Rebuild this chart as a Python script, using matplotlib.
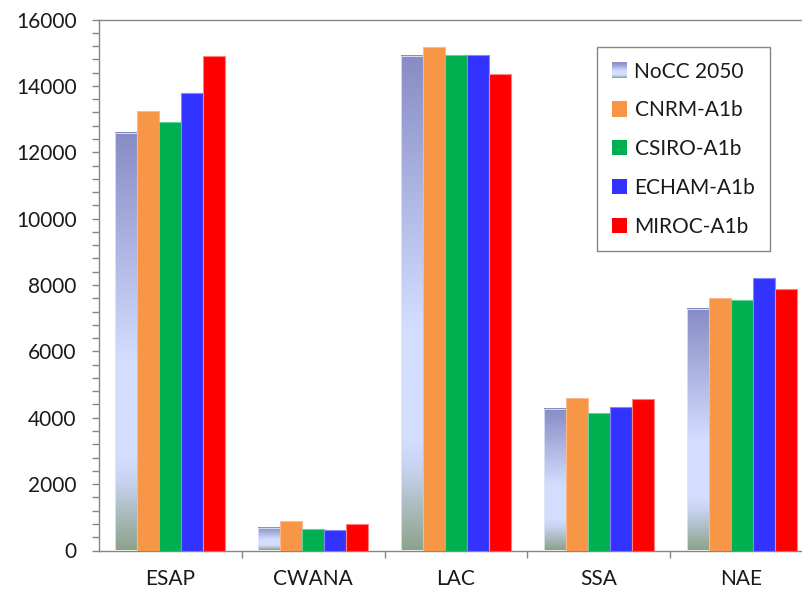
import numpy as np
import matplotlib
matplotlib.use("Agg")
import matplotlib.pyplot as plt
from matplotlib.colors import LinearSegmentedColormap
from matplotlib.patches import Rectangle
from matplotlib.legend_handler import HandlerBase
from matplotlib.ticker import MultipleLocator, FixedLocator, NullFormatter

# Regions and scenario series
regions = ["ESAP", "CWANA", "LAC", "SSA", "NAE"]
series_names = ["NoCC 2050", "CNRM-A1b", "CSIRO-A1b", "ECHAM-A1b", "MIROC-A1b"]
nocc_2050 = [12570, 670, 14900, 4255, 7285]
cnrm_a1b = [13240, 890, 15170, 4595, 7600]
csiro_a1b = [12900, 660, 14920, 4135, 7540]
echam_a1b = [13775, 625, 14920, 4315, 8200]
miroc_a1b = [14890, 800, 14360, 4565, 7880]
y_ticks = [0, 2000, 4000, 6000, 8000, 10000, 12000, 14000, 16000]

series_values = [nocc_2050, cnrm_a1b, csiro_a1b, echam_a1b, miroc_a1b]
solid_colors = [None, "#F79646", "#00B050", "#3333FF", "#FF0000"]
edge_colors = [None, "#FAB98C", "#66D096", "#8585FF", "#FF8080"]

# Vertical gradient used for the NoCC bars (bottom -> top)
grad_cmap = LinearSegmentedColormap.from_list(
    "nocc",
    [(0.00, "#8CA38A"),
     (0.16, "#C6D2EE"),
     (0.22, "#D3DEFF"),
     (0.45, "#D3DEFF"),
     (1.00, "#878CC5")],
)

plt.rcParams["font.family"] = ["Lato", "DejaVu Sans"]

fig = plt.figure(figsize=(8.02, 5.90), dpi=100)
ax = fig.add_axes([99 / 802, 1 - 550.5 / 590, (813 - 99) / 802, 531 / 590])

n = len(series_names)
bar_w = 0.154
x = np.arange(len(regions))
grad = np.linspace(0, 1, 256).reshape(-1, 1)

for i, (name, vals) in enumerate(zip(series_names, series_values)):
    offs = (i - (n - 1) / 2) * bar_w
    for xc, v in zip(x, vals):
        x0 = xc + offs - bar_w / 2
        if i == 0:
            ax.imshow(grad, cmap=grad_cmap, origin="lower", aspect="auto",
                      extent=[x0, x0 + bar_w, 0, v], interpolation="bilinear",
                      zorder=2)
            ax.add_patch(Rectangle((x0, 0), bar_w, v, facecolor="none",
                                   edgecolor="#E2E6F8", linewidth=0.6, zorder=3))
        else:
            ax.add_patch(Rectangle((x0, 0), bar_w, v, facecolor=solid_colors[i],
                                   edgecolor=edge_colors[i], linewidth=0.8,
                                   zorder=3))

ax.set_xlim(-0.5, len(regions) - 0.5)
ax.set_ylim(0, 16000)

# Spines
for side in ["left", "bottom", "top"]:
    ax.spines[side].set_color("#868686")
    ax.spines[side].set_linewidth(1.0)
ax.spines["right"].set_visible(False)

# Y axis ticks
ax.yaxis.set_major_locator(FixedLocator(y_ticks))
ax.yaxis.set_minor_locator(MultipleLocator(400))
ax.tick_params(axis="y", which="both", direction="out", length=5,
               color="#868686", width=1.0)
ax.tick_params(axis="y", which="major", labelsize=15, pad=11,
               labelcolor="#1A1A1A")
ax.set_yticklabels([str(t) for t in y_ticks])

# X axis: separators between categories, labels at centres
ax.xaxis.set_major_locator(FixedLocator(np.arange(len(regions) - 1) + 0.5))
ax.xaxis.set_major_formatter(NullFormatter())
ax.xaxis.set_minor_locator(FixedLocator(x))
ax.set_xticklabels(regions, minor=True)
ax.tick_params(axis="x", which="major", direction="out", length=5,
               color="#868686", width=1.0)
ax.tick_params(axis="x", which="minor", length=0, pad=13, labelsize=15,
               labelcolor="#1A1A1A")


class GradientHandler(HandlerBase):
    def create_artists(self, legend, orig_handle, xdescent, ydescent,
                       width, height, fontsize, trans):
        artists = []
        steps = 24
        for k in range(steps):
            frac = (k + 0.5) / steps
            artists.append(Rectangle((-xdescent, -ydescent + height * k / steps),
                                     width, height / steps + 0.3,
                                     facecolor=grad_cmap(frac), edgecolor="none",
                                     transform=trans))
        return artists


handles = [Rectangle((0, 0), 1, 1)]
for c in solid_colors[1:]:
    handles.append(Rectangle((0, 0), 1, 1, facecolor=c, edgecolor="none"))

leg = fig.legend(handles, series_names, loc="upper left",
                 bbox_to_anchor=(597 / 802, 1 - 47 / 590),
                 bbox_transform=fig.transFigure, borderaxespad=0,
                 fontsize=15, frameon=True, fancybox=False,
                 edgecolor="#868686", framealpha=1,
                 handlelength=0.75, handleheight=0.75, handletextpad=0.35,
                 labelspacing=0.9, borderpad=0.7,
                 handler_map={handles[0]: GradientHandler()})
leg.get_frame().set_linewidth(1.0)
for t in leg.get_texts():
    t.set_color("#1A1A1A")

fig.savefig("out.png", dpi=100)
